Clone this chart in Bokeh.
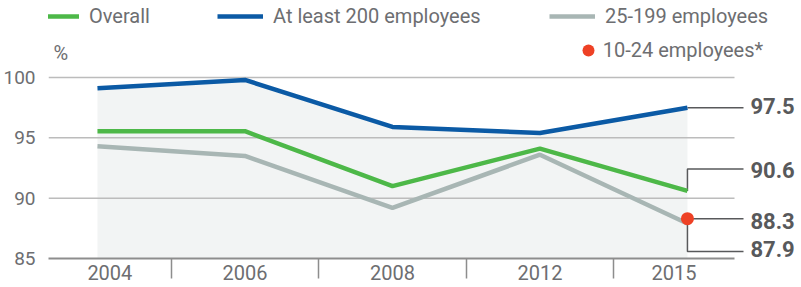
from bokeh.plotting import figure
from bokeh.models import Range1d, FixedTicker, Legend, LegendItem, Label, LabelSet, ColumnDataSource
from bokeh.core.properties import value
from bokeh.embed import file_html
from bokeh.resources import INLINE

# ---- data ----
years = ["2004", "2006", "2008", "2012", "2015"]
overall = [95.55, 95.55, 91.0, 94.1, 90.6]
at_least_200 = [99.1, 99.8, 95.9, 95.4, 97.5]
emp_25_199 = [94.3, 93.5, 89.2, 93.6, 87.9]
emp_10_24 = [88.3]          # 2015 only
y_ticks = [85, 90, 95, 100]

# ---- styles ----
FONT = "Roboto"
GREEN = "#4db848"
BLUE = "#0b5aa5"
GRAY = "#a8b6b4"
RED = "#ee4125"
FILL = "#f2f4f4"
GRID = "#bcbcbc"
AXIS = "#8d8d8d"
TXT = "#6d6e71"
DARK = "#58595b"

FW, FH = 754, 258
X0, X1 = -0.332, 4.780
Y0, Y1 = 85, 106.38
ppu_y = FH / (Y1 - Y0)

xs = list(range(len(years)))
last = xs[-1]

p = figure(width=793, height=287, frame_width=FW, frame_height=FH,
           x_range=Range1d(X0, X1), y_range=Range1d(Y0, Y1),
           output_backend="svg", toolbar_location=None,
           min_border_left=39, min_border_right=0, min_border_top=0, min_border_bottom=29)
p.outline_line_color = None
p.xgrid.visible = False
p.ygrid.visible = False
p.background_fill_color = "white"

# shaded area under the top series
p.varea(x=xs, y1=[Y0] * len(xs), y2=at_least_200, fill_color=FILL)

# horizontal gridlines (except the baseline which is the axis)
g_left, g_right = X0, 4.319
gy = [t for t in y_ticks if t > Y0]
p.segment(x0=[g_left] * len(gy), x1=[g_right] * len(gy), y0=gy, y1=gy,
          line_color=GRID, line_width=1.5)

# leader lines + end labels
end_vals = [at_least_200[-1], overall[-1], emp_10_24[0], emp_25_199[-1]]
lead_shift_px = [0, -22, 0, 28]
lead_y = [v - s / ppu_y for v, s in zip(end_vals, lead_shift_px)]
text_nudge_px = [2, -1, -2, 3]     # small vertical nudges of the text vs. leader
lead_end = 4.38
p.multi_line(xs=[[last, last, lead_end] for _ in end_vals],
             ys=[[v, ly, ly] for v, ly in zip(end_vals, lead_y)],
             line_color=DARK, line_width=1.5)
lab_src = ColumnDataSource(dict(x=[4.427] * len(end_vals), y=lead_y,
                                t=["%.1f" % v for v in end_vals], dy=text_nudge_px))
p.add_layout(LabelSet(x="x", y="y", text="t", y_offset="dy", source=lab_src,
                      text_font=value(FONT), text_font_style="bold", text_font_size="22px",
                      text_color=DARK, text_baseline="middle", text_align="left"))

# series
r_gray = p.line(xs, emp_25_199, line_color=GRAY, line_width=4.5)
r_green = p.line(xs, overall, line_color=GREEN, line_width=4.5)
r_blue = p.line(xs, at_least_200, line_color=BLUE, line_width=4.5)
r_red = p.scatter([last], emp_10_24, size=13, fill_color=RED, line_color=None)

# axes: separators between year bands, labels centred in each band
bounds_x = [g_left] + [i + 0.5 for i in xs[:-1]] + [g_right]
label_pos = [(a + b) / 2 for a, b in zip(bounds_x[:-1], bounds_x[1:])]
label_pos = [lp if i in (0, last) else float(i) for i, lp in enumerate(label_pos)]
xa = p.xaxis[0]
xa.ticker = FixedTicker(ticks=label_pos, minor_ticks=bounds_x[1:-1])
xa.major_label_overrides = {lp: y for lp, y in zip(label_pos, years)}
xa.major_tick_line_color = None
xa.major_tick_out = 0
xa.minor_tick_in = 0
xa.minor_tick_out = 20
xa.minor_tick_line_color = AXIS
xa.minor_tick_line_width = 1.5
xa.axis_line_color = AXIS
xa.axis_line_width = 2
xa.bounds = (g_left, g_right)
xa.major_label_text_font = FONT
xa.major_label_text_font_size = "20px"
xa.major_label_text_color = TXT
xa.major_label_standoff = -14

ya = p.yaxis[0]
ya.ticker = FixedTicker(ticks=y_ticks)
ya.axis_line_color = None
ya.major_tick_line_color = None
ya.minor_tick_line_color = None
ya.major_label_text_font = FONT
ya.major_label_text_font_size = "19px"
ya.major_label_text_color = TXT
ya.major_label_standoff = 7

p.add_layout(Label(x=-0.298, y=102.07, text="%", text_font=FONT, text_font_size="20px",
                   text_color=TXT, text_baseline="middle"))

# legends (one per item, placed individually)
def mk_legend(label, rend, loc, gw=46, gh=24, standoff=10):
    lg = Legend(items=[LegendItem(label=label, renderers=[rend])], location=loc,
                orientation="horizontal", glyph_width=gw, glyph_height=gh,
                label_height=gh, label_standoff=standoff, padding=0, margin=0,
                spacing=0, border_line_color=None, background_fill_alpha=0,
                label_text_font=FONT, label_text_font_size="20px",
                label_text_color=TXT)
    p.add_layout(lg, "center")

mk_legend("Overall", r_green, (-15, 230))
mk_legend("At least 200 employees", r_blue, (169, 230))
mk_legend("25-199 employees", r_gray, (501, 230))
mk_legend("10-24 employees*", r_red, (524.7, 190), gw=30, gh=36, standoff=0)

open("out.html", "w").write(file_html(p, INLINE))
